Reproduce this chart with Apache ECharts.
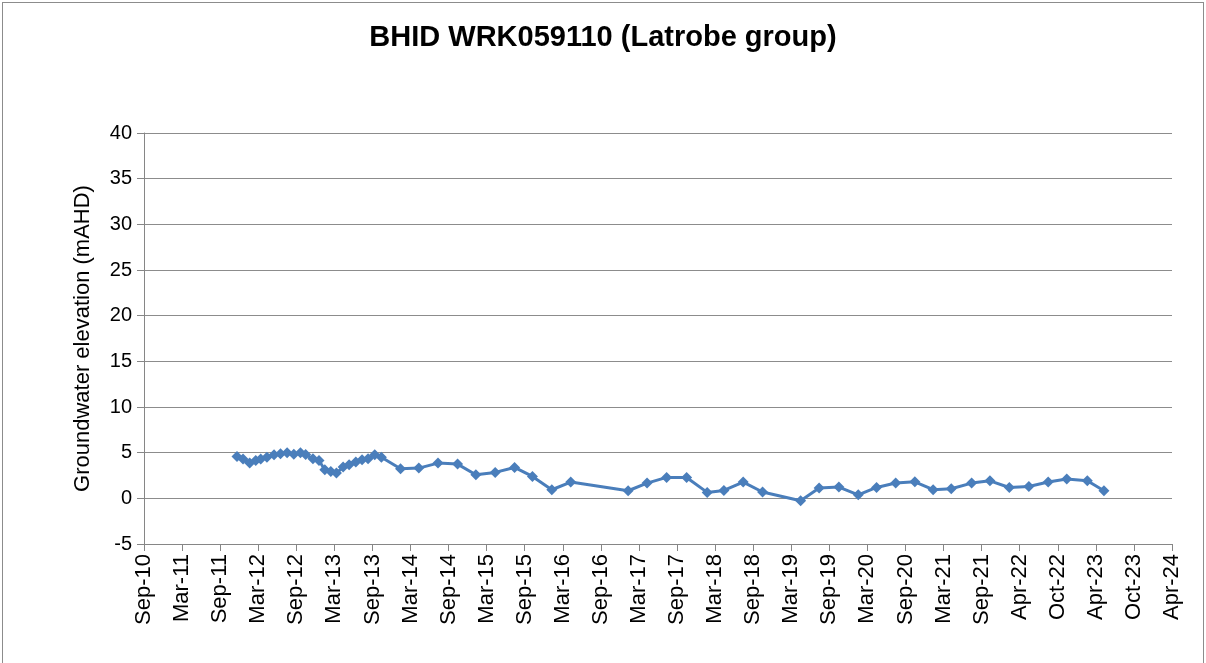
<!DOCTYPE html>
<html>
<head>
    <meta charset="UTF-8">
    <title>BHID WRK059110 (Latrobe group)</title>
    <script src="https://cdn.jsdelivr.net/npm/echarts@6/dist/echarts.min.js"></script>
    <style>
        body {
            margin: 0;
            background: #fff;
        }

        #frame {
            position: absolute;
            left: 2px;
            top: 2px;
            width: 1200px;
            height: 700px;
            border: 1px solid #8c8c8c;
        }

        #chartContainer {
            position: absolute;
            left: 0;
            top: 0;
            width: 1206px;
            height: 663px;
        }
    </style>
</head>
<body>
<div id="frame"></div>
<div id="chartContainer"></div>
<script>
    // sampling dates
    var sampleDates = [
        '2011-12-13', '2012-01-11', '2012-02-12', '2012-03-12', '2012-04-05', '2012-05-05',
        '2012-06-08', '2012-07-09', '2012-08-10', '2012-09-11', '2012-10-13', '2012-11-07',
        '2012-12-12', '2013-01-10', '2013-02-07', '2013-03-08', '2013-04-04', '2013-05-06',
        '2013-06-04', '2013-07-06', '2013-08-05', '2013-09-03', '2013-10-05', '2013-11-06',
        '2014-02-06', '2014-05-05', '2014-08-05', '2014-11-07', '2015-02-03', '2015-05-07',
        '2015-08-08', '2015-11-02', '2016-02-03', '2016-05-04', '2017-02-04', '2017-05-06',
        '2017-08-08', '2017-11-12', '2018-02-19', '2018-05-10', '2018-08-11', '2018-11-12',
        '2019-05-14', '2019-08-11', '2019-11-14', '2020-02-15', '2020-05-13', '2020-08-13',
        '2020-11-13', '2021-02-09', '2021-05-07', '2021-08-13', '2021-11-09', '2022-02-10',
        '2022-05-15', '2022-08-16', '2022-11-13', '2023-02-20', '2023-05-11'
    ];

    // groundwater elevation (mAHD)
    var elevation = [
        4.58, 4.30, 3.86, 4.15, 4.30, 4.50,
        4.77, 4.88, 5.00, 4.84, 5.00, 4.80,
        4.33, 4.15, 3.13, 2.94, 2.77, 3.42,
        3.67, 3.97, 4.22, 4.33, 4.77, 4.50,
        3.24, 3.31, 3.86, 3.75, 2.58, 2.84,
        3.38, 2.40, 0.94, 1.78, 0.83, 1.67,
        2.29, 2.29, 0.65, 0.86, 1.78, 0.69,
        -0.26, 1.12, 1.23, 0.39, 1.19, 1.67,
        1.81, 0.94, 1.05, 1.67, 1.92, 1.19,
        1.30, 1.78, 2.11, 1.92, 0.83
    ];

    // x axis labels, one every 183 days from 22 Sep 2010
    var tickLabels = [
        'Sep-10', 'Mar-11', 'Sep-11', 'Mar-12', 'Sep-12', 'Mar-13', 'Sep-13',
        'Mar-14', 'Sep-14', 'Mar-15', 'Sep-15', 'Mar-16', 'Sep-16', 'Mar-17',
        'Sep-17', 'Mar-18', 'Sep-18', 'Mar-19', 'Sep-19', 'Mar-20', 'Sep-20',
        'Mar-21', 'Sep-21', 'Apr-22', 'Oct-22', 'Apr-23', 'Oct-23', 'Apr-24'
    ];

    var AXIS_START = Date.UTC(2010, 8, 22);
    var STEP_DAYS = 183;

    function dayIndex(s) {
        var p = s.split('-');
        return (Date.UTC(+p[0], +p[1] - 1, +p[2]) - AXIS_START) / 86400000;
    }

    var data = [];
    for (var i = 0; i < sampleDates.length; i++) {
        data.push([dayIndex(sampleDates[i]), elevation[i]]);
    }

    var font = 'Liberation Sans, Arial, sans-serif';
    var myChart = echarts.init(document.getElementById('chartContainer'));
    var option = {
        animation: false,
        textStyle: {fontFamily: font},
        title: {
            text: 'BHID WRK059110 (Latrobe group)',
            left: 'center',
            top: 18,
            textStyle: {fontSize: 29, fontWeight: 'bold', color: '#000', fontFamily: font}
        },
        grid: {left: 144, right: 34, top: 133, bottom: 119},
        xAxis: {
            type: 'value',
            min: 0,
            max: STEP_DAYS * (tickLabels.length - 1),
            interval: STEP_DAYS,
            axisLine: {show: true, onZero: false, lineStyle: {color: '#868686', width: 1}},
            axisTick: {show: true, length: 7, lineStyle: {color: '#868686'}},
            splitLine: {show: false},
            axisLabel: {
                rotate: 90,
                margin: 10,
                fontSize: 22,
                color: '#000',
                fontFamily: font,
                formatter: function (v) {
                    return tickLabels[Math.round(v / STEP_DAYS)] || '';
                }
            }
        },
        yAxis: {
            type: 'value',
            min: -5,
            max: 40,
            interval: 5,
            name: 'Groundwater elevation (mAHD)',
            nameLocation: 'middle',
            nameGap: 50,
            nameTextStyle: {fontSize: 22, color: '#000', fontFamily: font},
            axisLine: {show: true, lineStyle: {color: '#868686', width: 1}},
            axisTick: {show: true, length: 7, lineStyle: {color: '#868686'}},
            splitLine: {show: true, lineStyle: {color: '#8c8c8c', width: 1}},
            axisLabel: {fontSize: 20, color: '#000', margin: 12, fontFamily: font}
        },
        series: [{
            type: 'line',
            data: data,
            symbol: 'diamond',
            symbolSize: 11,
            showSymbol: true,
            lineStyle: {color: '#4a7ebb', width: 3},
            itemStyle: {color: '#4a7ebb'}
        }]
    };
    myChart.setOption(option);
</script>
</body>
</html>
